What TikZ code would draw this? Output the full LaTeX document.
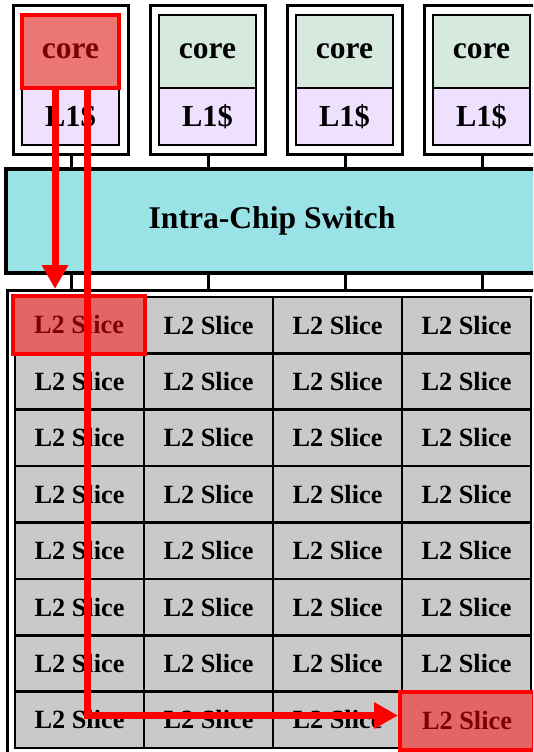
\documentclass[tikz,border=0pt]{standalone}
\usepackage{fontspec}
\setmainfont{Liberation Serif}
\usetikzlibrary{arrows.meta}
\definecolor{coreg}{HTML}{D5E9DF}
\definecolor{lonep}{HTML}{EFE0FD}
\definecolor{swc}{HTML}{99E3E6}
\definecolor{l2g}{HTML}{C9C9C9}
\definecolor{redcore}{HTML}{EC7672}
\definecolor{redl2}{HTML}{E36666}
\definecolor{redtxt}{HTML}{7F0000}
\tikzset{
  outerbox/.style={draw=black, fill=white, line width=3pt, minimum width=115pt, minimum height=148pt, inner sep=0pt},
  corebox/.style={draw=black, fill=coreg, line width=2.5pt, minimum width=97pt, minimum height=73pt, inner sep=0pt, font=\fontsize{31.5}{36}\selectfont\bfseries},
  lonebox/.style={draw=black, fill=lonep, line width=2.5pt, minimum width=97pt, minimum height=57pt, inner sep=0pt, font=\fontsize{30.5}{34}\selectfont\bfseries},
  redcorebox/.style={draw=red, fill=redcore, line width=4pt, minimum width=97pt, minimum height=73pt, inner sep=0pt, text=redtxt, font=\fontsize{31.5}{36}\selectfont\bfseries},
  switchbox/.style={draw=black, fill=swc, line width=4pt, minimum width=532pt, minimum height=104pt, inner sep=0pt, font=\fontsize{31.6}{36}\selectfont\bfseries},
  stub/.style={draw=black, line width=2.5pt},
  l2outer/.style={draw=black, fill=white, line width=3pt, minimum width=534pt, minimum height=520pt, inner sep=0pt},
  l2cell/.style={draw=black, fill=l2g, line width=2.7pt, minimum width=129pt, minimum height=56.375pt, inner sep=0pt, font=\fontsize{26.3}{30}\selectfont\bfseries},
  redcell/.style={draw=red, fill=redl2, line width=4pt, inner sep=0pt, text=redtxt, font=\fontsize{26.3}{30}\selectfont\bfseries},
  redarrow/.style={draw=red, line width=7pt, -{Triangle[length=24pt,width=25pt]}},
}
\begin{document}
\begin{tikzpicture}[x=1pt,y=-1pt]
\useasboundingbox (0,0) rectangle (533,752);
\clip (0,0) rectangle (533,752);
\fill[white] (0,0) rectangle (533,752);
% switch and L2 outer box
\node[switchbox] (sw) at (272,221) {Intra-Chip Switch};
\node[l2outer, anchor=north west] (l2box) at (6,289) {};
% cores
\foreach \i in {0,...,3}{
  \node[outerbox] (co\i) at ({70.5+137*\i},80) {};
  \node[lonebox] (lone\i) at ({70.5+137*\i},116.5) {L1\$};
  \ifnum\i>0
    \node[corebox] (core\i) at ({70.5+137*\i},51.5) {core};
  \fi
  \draw[stub] ([xshift=1pt]co\i.south) -- ([xshift=1pt]co\i.south |- sw.north);
  \draw[stub] ([xshift=1pt]co\i.south |- sw.south) -- ([xshift=1pt]co\i.south |- l2box.north);
}
\node[redcorebox] (core0) at (70.5,51.5) {core};
% L2 grid
\foreach \r in {0,...,7}{
  \foreach \c in {0,...,3}{
    \pgfmathtruncatemacro\isred{((\r==0)&&(\c==0))||((\r==7)&&(\c==3)) ? 1 : 0}
    \ifnum\isred=0
      \node[l2cell] (cell-\r-\c) at ({79.5+129*\c},{325.19+56.375*\r}) {L2 Slice};
    \fi
  }
}
\node[redcell, minimum width=132pt, minimum height=58pt] (cell-0-0) at (79,325) {L2 Slice};
\node[redcell, minimum width=134pt, minimum height=58pt] (cell-7-3) at (467,720.5) {L2 Slice};
% red arrows
\draw[redarrow] ([xshift=-15.5pt]core0.south) -- ([xshift=-15.5pt]core0.south |- l2box.north);
\draw[redarrow] ([xshift=16.5pt]core0.south) |- ([yshift=5pt]cell-7-3.west);
\end{tikzpicture}
\end{document}
